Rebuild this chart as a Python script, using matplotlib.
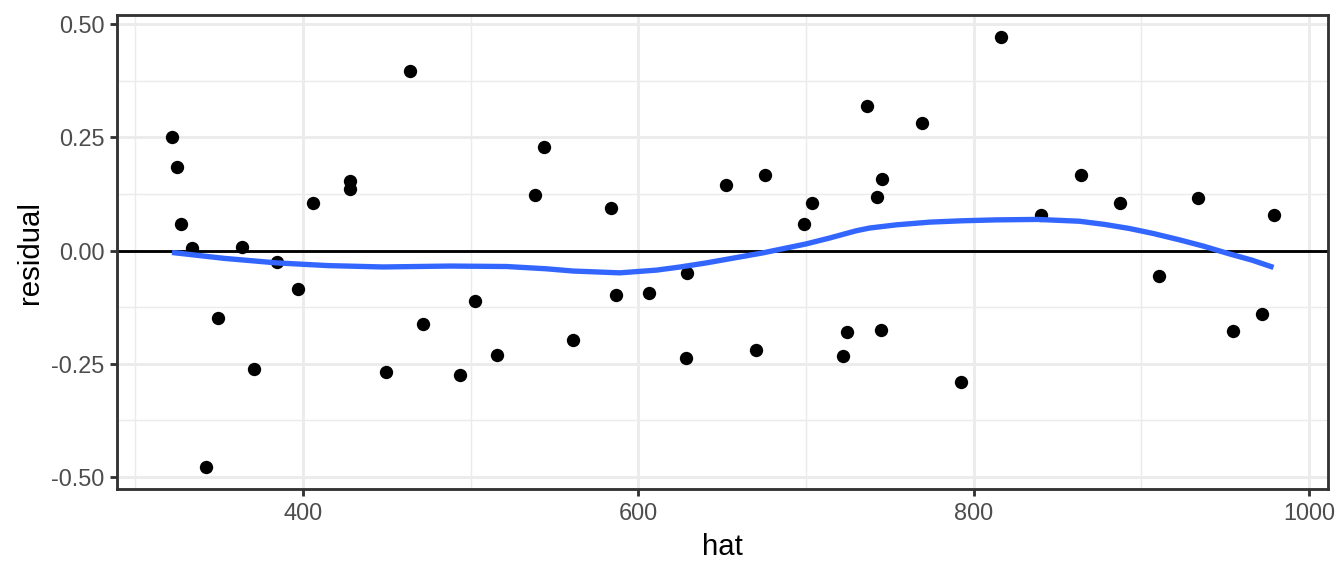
import matplotlib
matplotlib.use('Agg')
import matplotlib.pyplot as plt

plt.rcParams['font.family'] = ['Liberation Sans', 'DejaVu Sans']
plt.rcParams['axes.unicode_minus'] = False

# fitted values vs residuals
hat = [321.9, 324.7, 327.1, 334.0, 342.4, 349.3, 363.5, 370.6, 384.7, 396.8,
       406.1, 428.0, 428.0, 449.7, 463.8, 471.7, 493.7, 502.7, 516.0, 538.4,
       544.0, 560.9, 583.6, 586.4, 606.4, 629.3, 628.7, 652.5, 670.0, 675.7,
       699.0, 703.5, 722.2, 724.4, 736.3, 742.2, 744.9, 745.6, 769.1, 792.7,
       816.4, 840.0, 863.7, 887.3, 910.7, 933.6, 954.7, 971.7, 978.8]
residual = [0.251, 0.185, 0.060, 0.006, -0.478, -0.149, 0.009, -0.261, -0.025, -0.085,
            0.106, 0.154, 0.137, -0.269, 0.397, -0.163, -0.275, -0.111, -0.231, 0.124,
            0.228, -0.198, 0.094, -0.097, -0.094, -0.049, -0.236, 0.146, -0.220, 0.168,
            0.060, 0.106, -0.233, -0.180, 0.319, 0.118, -0.176, 0.159, 0.283, -0.289,
            0.473, 0.079, 0.168, 0.106, -0.057, 0.117, -0.178, -0.140, 0.079]

# smoother curve
smooth_x = [321.9, 353.0, 384.3, 415.0, 447.7, 487.6, 521.4, 545.0, 561.1, 588.9,
            610.8, 625.0, 640.6, 660.4, 674.1, 700.2, 714.1, 730.0, 737.9, 753.8,
            773.7, 793.0, 813.4, 838.0, 863.0, 878.0, 892.8, 907.0, 922.6, 937.0,
            952.4, 966.0, 978.8]
smooth_y = [-0.004, -0.017, -0.027, -0.033, -0.036, -0.034, -0.035, -0.040, -0.045, -0.049,
            -0.043, -0.036, -0.027, -0.014, -0.005, 0.015, 0.028, 0.044, 0.050, 0.057,
            0.063, 0.066, 0.068, 0.069, 0.065, 0.058, 0.049, 0.038, 0.024, 0.010,
            -0.007, -0.021, -0.037]

x_major = [400, 600, 800, 1000]
x_minor = [300, 500, 700, 900]
y_major = [-0.50, -0.25, 0.00, 0.25, 0.50]
y_minor = [-0.375, -0.125, 0.125, 0.375]
y_labels = ['-0.50', '-0.25', '0.00', '0.25', '0.50']

fig = plt.figure(figsize=(7, 3), dpi=192)
ax = fig.add_axes([0.0873, 0.151, 0.9008, 0.823])

for v in x_minor:
    ax.axvline(v, color='#EBEBEB', lw=0.53, zorder=0)
for v in y_minor:
    ax.axhline(v, color='#EBEBEB', lw=0.53, zorder=0)
for v in x_major:
    ax.axvline(v, color='#EBEBEB', lw=1.07, zorder=0)
for v in y_major:
    ax.axhline(v, color='#EBEBEB', lw=1.07, zorder=0)

ax.plot(hat, residual, 'o', color='black', markersize=5.0, markeredgewidth=0, zorder=3)
ax.axhline(0, color='black', lw=1.07, zorder=2)
ax.plot(smooth_x, smooth_y, color='#3366FF', lw=2.0, zorder=4, solid_capstyle='butt',
        solid_joinstyle='round')

ax.set_xlim(289.3, 1011.3)
ax.set_ylim(-0.5265, 0.5206)
ax.set_xticks(x_major)
ax.set_yticks(y_major)
ax.set_yticklabels(y_labels)
ax.tick_params(axis='both', colors='#333333', labelcolor='#4D4D4D', labelsize=8.8,
               length=2.75, width=1.07, pad=2.2)
for s in ax.spines.values():
    s.set_color('#333333')
    s.set_linewidth(1.07)

ax.set_xlabel('hat', fontsize=11, labelpad=2.75)
ax.set_ylabel('residual', fontsize=11, labelpad=2.75)

fig.savefig('out.png', dpi=192)
